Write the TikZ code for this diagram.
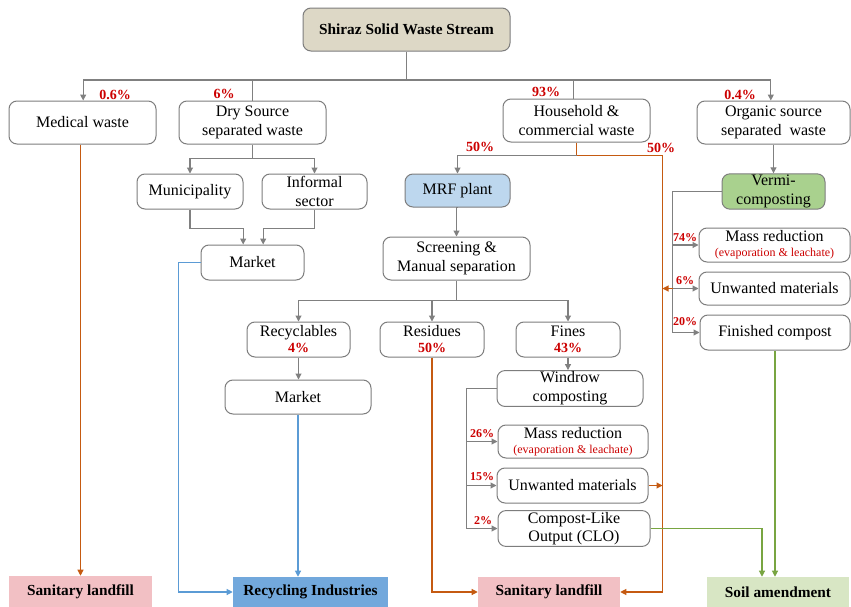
\documentclass[tikz,border=0pt]{standalone}
\usepackage{fontspec}
\setmainfont{Liberation Serif}
\usetikzlibrary{arrows.meta,positioning,calc}
\definecolor{linegrey}{RGB}{128,128,128}
\definecolor{boxgrey}{RGB}{125,125,125}
\definecolor{pctred}{RGB}{204,0,0}
\definecolor{orangeline}{RGB}{197,90,17}
\definecolor{blueline}{RGB}{91,155,213}
\definecolor{greenline}{RGB}{120,165,65}
\definecolor{titlefill}{RGB}{221,216,198}
\definecolor{mrffill}{RGB}{189,215,238}
\definecolor{vermifill}{RGB}{169,209,142}
\definecolor{landfillfill}{RGB}{242,192,196}
\definecolor{recindfill}{RGB}{114,168,220}
\definecolor{soilfill}{RGB}{216,230,196}
\newcommand{\pcnt}[1]{{\color{pctred}\fontsize{10.5}{12}\selectfont\bfseries #1}}
\newcommand{\smallred}[1]{{\color{pctred}\fontsize{9}{10}\selectfont #1}}
\tikzset{
  wh/.style 2 args={minimum width=#1*0.75pt,minimum height=#2*0.75pt},
  box/.style={draw=boxgrey,rounded corners=6pt,fill=white,align=center,
              inner sep=1pt,line width=.75pt,font=\fontsize{12}{14}\selectfont},
  sink/.style={draw=none,align=center,inner sep=1pt,
               font=\fontsize{11.5}{13}\selectfont\bfseries},
  pct/.style={text=pctred,inner sep=0pt,font=\fontsize{10.5}{12}\selectfont\bfseries},
  spct/.style={pct,font=\fontsize{9}{10}\selectfont\bfseries},
  gline/.style={draw=linegrey,line width=.8pt},
  garrow/.style={gline,-{Triangle[length=4.5pt,width=4.5pt]}},
  oarrow/.style={draw=orangeline,line width=.8pt,-{Triangle[length=4.5pt,width=4.5pt]}},
  barrow/.style={draw=blueline,line width=.8pt,-{Triangle[length=4.5pt,width=4.5pt]}},
  grarrow/.style={draw=greenline,line width=.8pt,-{Triangle[length=4.5pt,width=4.5pt]}},
}
\begin{document}
\begin{tikzpicture}[x=0.75pt,y=-0.75pt]
  \useasboundingbox (0,0) rectangle (851,607);
  \node[box,wh={207}{43},fill=titlefill,font=\fontsize{11.5}{13}\selectfont\bfseries]
    (title) at (406.5,29.5) {Shiraz Solid Waste Stream};
  \node[box,wh={147}{43}] (med) at (82.5,122.5) {Medical waste};
  \node[box,wh={147}{43}] (dry) at (252.5,122.5) {Dry Source\\separated waste};
  \node[box,wh={147}{43}] (house) at (576.5,120.5) {Household \&\\commercial waste};
  \node[box,wh={153}{43}] (org) at (773.5,122.5) {Organic source\\separated\ \ waste};
  \node[box,wh={106}{35}] (muni) at (190,191.5) {Municipality};
  \node[box,wh={105}{35}] (inf) at (314.5,191.5) {Informal\\sector};
  \node[box,wh={103}{35}] (mk1) at (252.5,262.5) {Market};
  \node[box,wh={105}{33},fill=mrffill] (mrf) at (457.5,190.5) {MRF plant};
  \node[box,wh={147}{43}] (scr) at (456.5,258.5) {Screening \&\\Manual separation};
  \node[box,wh={103}{35}] (recyc) at (298.5,339.5) {Recyclables\\[-2pt]\pcnt{4\%}};
  \node[box,wh={104}{35}] (resid) at (432,339.5) {Residues\\[-2pt]\pcnt{50\%}};
  \node[box,wh={104}{35}] (fines) at (568,339.5) {Fines\\[-2pt]\pcnt{43\%}};
  \node[box,wh={146}{34}] (mk2) at (298,397) {Market};
  \node[box,wh={146}{35}] (win) at (570,388.5) {Windrow\\composting};
  \node[box,wh={150}{33}] (massw) at (573,441.5)
    {Mass reduction\\[-3pt]\smallred{(evaporation \& leachate)}};
  \node[box,wh={151}{35}] (unww) at (572.5,485.5) {Unwanted materials};
  \node[box,wh={152}{35}] (clo) at (574,528.5) {Compost-Like\\Output (CLO)};
  \node[box,wh={103}{35},fill=vermifill] (vermi) at (773.5,191.5) {Vermi-\\composting};
  \node[box,wh={151}{34}] (massv) at (774.5,245)
    {Mass reduction\\[-3pt]\smallred{(evaporation \& leachate)}};
  \node[box,wh={151}{33}] (unwv) at (774.5,288.5) {Unwanted materials};
  \node[box,wh={150}{35}] (fin) at (775,332.5) {Finished compost};
  \node[sink,wh={143}{31},fill=landfillfill] (landl) at (80.5,591.5) {Sanitary landfill};
  \node[sink,wh={155}{30},fill=recindfill] (recind) at (310.5,592) {Recycling Industries};
  \node[sink,wh={142}{30},fill=landfillfill] (landm) at (549,592) {Sanitary landfill};
  \node[sink,wh={142}{30},fill=soilfill] (soil) at (778,592) {Soil amendment};

  \node[pct] (p-med) at (115,95) {0.6\%};
  \node[pct] (p-dry) at (224,94) {6\%};
  \node[pct] (p-house) at (546,92) {93\%};
  \node[pct] (p-org) at (740,95) {0.4\%};
  \node[pct] (p-mrf) at (480,147) {50\%};
  \node[pct] (p-land) at (661,148) {50\%};
  \node[spct] (p-massv) at (685,238) {74\%};
  \node[spct] (p-unwv) at (685,281) {6\%};
  \node[spct] (p-fin) at (685,322) {20\%};
  \node[spct] (p-massw) at (482,434) {26\%};
  \node[spct] (p-unww) at (482,477) {15\%};
  \node[spct] (p-clo) at (483,521) {2\%};

  \coordinate (trunk) at (0,80);
  \draw[gline] (title.south) -- (title.south |- trunk);
  \draw[gline] ([xshift=.5pt]med.north |- trunk) -- ([xshift=-2pt]org.north |- trunk);
  \draw[garrow] ([xshift=.5pt]med.north |- trunk) -- ([xshift=.5pt]med.north);
  \draw[gline] (dry.north |- trunk) -- (dry.north);
  \draw[gline] ([xshift=-2pt]house.north |- trunk) -- ([xshift=-2pt]house.north);
  \draw[garrow] ([xshift=-2pt]org.north |- trunk) -- ([xshift=-2pt]org.north);

  \draw[gline] (dry.south) -- ++(0,14) coordinate (drysplit);
  \draw[garrow] (drysplit) -| (muni.north);
  \draw[garrow] (drysplit) -| (inf.north);
  \draw[garrow] (muni.south) -- ++(0,19) -| ([xshift=-7pt]mk1.north);
  \draw[garrow] (inf.south) -- ++(0,19) -| ([xshift=8pt]mk1.north);
  \draw[barrow] (mk1.west) -- ++(-22,0) |- (recind.west);
  \draw[oarrow] (landl.north |- med.south) -- (landl.north);

  \draw[draw=orangeline,line width=.8pt] (house.south) -- ++(0,13) coordinate (hsplit);
  \draw[garrow] (hsplit) -| (mrf.north);
  \draw[oarrow] (hsplit) -- ++(86,0) coordinate (obus) |- (landm.east);
  \draw[garrow] (mrf.south) -- (scr.south |- mrf.south) -- (scr.north);
  \draw[gline] (scr.south) -- ++(0,20) coordinate (ssplit);
  \draw[garrow] (ssplit) -| (recyc.north);
  \draw[garrow] (ssplit) -| (resid.north);
  \draw[garrow] (ssplit) -| (fines.north);
  \draw[garrow] (recyc.south) -- (recyc.south |- mk2.north);
  \draw[barrow] (mk2.south) -- (mk2.south |- recind.north);
  \draw[oarrow] (resid.south) |- (landm.west);
  \draw[garrow] (fines.south) -- (fines.south |- win.north);

  \draw[garrow] (win.west) -- ++(-30,0) coordinate (wbus) |- (clo.west);
  \draw[garrow] (wbus |- massw.west) -- (massw.west);
  \draw[garrow] (wbus |- unww.west) -- (unww.west);
  \draw[oarrow] (unww.east) -- (unww.east -| obus);
  \draw[grarrow] (clo.east) -| ([xshift=-12pt]soil.north);

  \draw[garrow] (org.south) -- (vermi.north);
  \draw[garrow] (vermi.west) -- ++(-49,0) coordinate (vbus) |- (fin.west);
  \draw[garrow] (vbus |- massv.west) -- (massv.west);
  \draw[garrow] (vbus |- unwv.west) -- (unwv.west);
  \draw[oarrow] (vbus |- unwv.west) -- (obus |- unwv.west);
  \draw[grarrow] (fin.south) -- (fin.south |- soil.north);
\end{tikzpicture}
\end{document}
